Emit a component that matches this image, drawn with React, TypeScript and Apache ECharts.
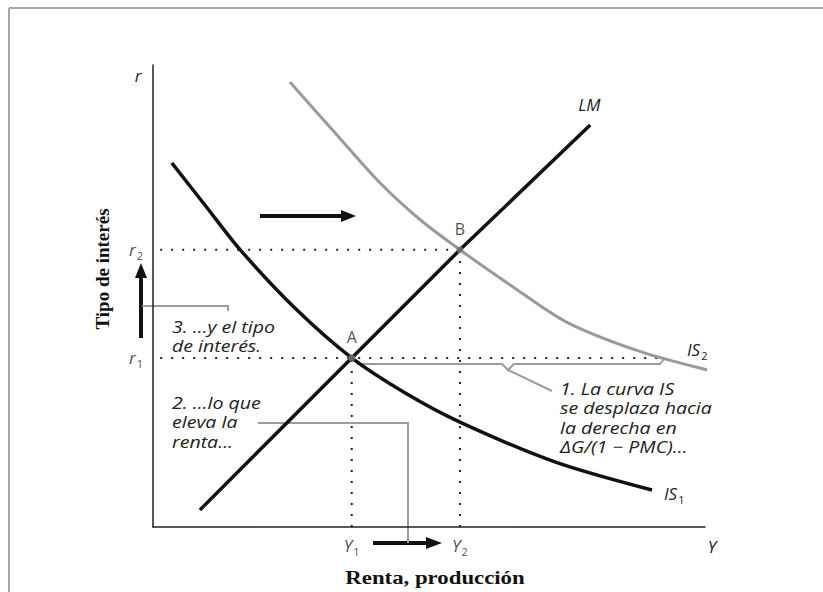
import React, { useEffect, useRef } from "react";
import * as echarts from "echarts";

// ---- data (abstract units: income Y on x, interest rate r on y) ----
const X_RANGE = [0, 100];
const Y_RANGE = [0, 100];
const IS1_X = [3.4, 9.4, 15.8, 25.7, 36, 45.7, 55.6, 72.8, 90.4];
const IS1_Y = [78.8, 69.7, 60, 47.4, 36.6, 29, 22.7, 14.1, 8];
const IS2_X = [24.8, 33, 41.1, 48.4, 55.6, 64.7, 75, 88.2, 100.4];
const IS2_Y = [96.3, 85.3, 74.5, 66.5, 60, 52.4, 44.3, 38, 34];
const LM_X = [8.5, 36, 55.6, 79.2];
const LM_Y = [3.7, 36.6, 60, 87];
const EQ_NAMES = ["A", "B"];
const EQ_INCOME = [36, 55.6]; // Y1, Y2
const EQ_RATE = [36.6, 60]; // r1, r2
const INCOME_TICKS = ["1", "2"];
const RATE_TICKS = ["1", "2"];
const GUIDE_START = 1.3;
const R1_GUIDE_END = 92.8;
const CURVE_NAMES = ["IS", "IS", "LM"];

const SANS = "'Open Sans', 'DejaVu Sans', sans-serif";
const SERIF = "'Liberation Serif', 'DejaVu Serif', serif";

const zip = (xs: number[], ys: number[]) => xs.map((x, i) => [x, ys[i]]);

const subRich = {
  m: { fontStyle: "italic", fontSize: 17, fontFamily: SANS, color: "#222", lineHeight: 18, verticalAlign: "top" },
  s: { fontSize: 11, fontFamily: SANS, color: "#222", lineHeight: 11, padding: [9, 0, 0, 1], verticalAlign: "top" },
};

export default function App() {
  const ref = useRef<HTMLDivElement>(null);
  useEffect(() => {
    if (!ref.current) return;
    const chart = echarts.init(ref.current, null, { renderer: "svg" });
    const dotted = { color: "#222", width: 2, type: [2, 9] as any };
    const guide = (pts: number[][]) => ({
      type: "line",
      data: pts,
      symbol: "none",
      lineStyle: dotted,
      z: 1,
      silent: true,
    });
    const gray = "#9c9c9c";
    const annText = (x: number, y: number, text: string, lh: number) => ({
      type: "text",
      x,
      y,
      scaleX: 1.15,
      style: {
        text,
        font: `italic 17px ${SANS}`,
        fill: "#222",
        lineHeight: lh,
        textVerticalAlign: "top",
      },
    });
    const option: any = {
      animation: false,
      grid: { left: 153, top: 65, width: 552, height: 462 },
      xAxis: {
        type: "value",
        min: X_RANGE[0],
        max: X_RANGE[1],
        axisLine: { show: true, onZero: false, lineStyle: { color: "#222", width: 1.5 } },
        axisTick: { show: false },
        axisLabel: { show: false },
        splitLine: { show: false },
      },
      yAxis: {
        type: "value",
        min: Y_RANGE[0],
        max: Y_RANGE[1],
        axisLine: { show: true, onZero: false, lineStyle: { color: "#222", width: 1.5 } },
        axisTick: { show: false },
        axisLabel: { show: false },
        splitLine: { show: false },
      },
      series: [
        guide([[GUIDE_START, EQ_RATE[1]], [EQ_INCOME[1], EQ_RATE[1]]]),
        guide([[GUIDE_START, EQ_RATE[0]], [R1_GUIDE_END, EQ_RATE[0]]]),
        guide([[EQ_INCOME[0], 0], [EQ_INCOME[0], EQ_RATE[0]]]),
        guide([[EQ_INCOME[1], 0], [EQ_INCOME[1], EQ_RATE[1]]]),
        {
          type: "line",
          data: zip(IS2_X, IS2_Y),
          smooth: 0.3,
          symbol: "none",
          clip: false,
          z: 2,
          lineStyle: { color: "#9a9a9a", width: 3 },
          endLabel: {
            show: true,
            formatter: `{m|${CURVE_NAMES[1]}}{s|2}`,
            rich: subRich,
            offset: [-28, -20],
          },
        },
        {
          type: "line",
          data: zip(IS1_X, IS1_Y),
          smooth: 0.3,
          symbol: "none",
          z: 3,
          lineStyle: { color: "#111", width: 3.5 },
          endLabel: {
            show: true,
            formatter: `{m|${CURVE_NAMES[0]}}{s|1}`,
            rich: subRich,
            offset: [4, 4],
          },
        },
        {
          type: "line",
          data: zip(LM_X, LM_Y),
          symbol: "none",
          z: 3,
          lineStyle: { color: "#111", width: 3.5 },
          endLabel: {
            show: true,
            formatter: `{m|${CURVE_NAMES[2]}}`,
            rich: subRich,
            offset: [-20, -20],
          },
        },
        {
          type: "scatter",
          z: 4,
          symbolSize: 7,
          itemStyle: { color: "#7a7a7a" },
          data: EQ_NAMES.map((n, i) => ({ name: n, value: [EQ_INCOME[i], EQ_RATE[i]] })),
          label: {
            show: true,
            position: "top",
            distance: 9,
            formatter: (p: any) => p.name,
            fontSize: 16,
            fontFamily: SANS,
            color: "#222",
          },
        },
        {
          type: "scatter",
          symbolSize: 0,
          z: 4,
          data: EQ_INCOME.map((v, i) => ({ value: [v, 0], name: INCOME_TICKS[i] })),
          label: {
            show: true,
            position: "bottom",
            distance: 10,
            formatter: (p: any) => `{m|Y}{s|${p.name}}`,
            rich: subRich,
          },
        },
        {
          type: "scatter",
          symbolSize: 0,
          z: 4,
          data: EQ_RATE.map((v, i) => ({ value: [0, v], name: RATE_TICKS[i] })),
          label: {
            show: true,
            position: "left",
            distance: 10,
            formatter: (p: any) => `{m|r}{s|${p.name}}`,
            rich: subRich,
          },
        },
      ],
      graphic: [
        // frame
        { type: "line", shape: { x1: 9, y1: 8, x2: 823, y2: 8 }, style: { stroke: "#a8a8a8", lineWidth: 2 } },
        { type: "line", shape: { x1: 9, y1: 8, x2: 9, y2: 592 }, style: { stroke: "#a8a8a8", lineWidth: 2 } },
        // axis letters
        { type: "text", x: 138, y: 75, style: { text: "r", font: `italic 17px ${SANS}`, fill: "#222", textAlign: "center", textVerticalAlign: "middle" } },
        { type: "text", x: 712, y: 546, style: { text: "Y", font: `italic 17px ${SANS}`, fill: "#222", textAlign: "center", textVerticalAlign: "middle" } },
        // axis titles
        {
          type: "text",
          x: 102,
          y: 269,
          rotation: Math.PI / 2,
          style: { text: "Tipo de interés", font: `bold 19px ${SERIF}`, fill: "#111", textAlign: "center", textVerticalAlign: "middle" },
        },
        {
          type: "text",
          x: 435,
          y: 578,
          scaleX: 1.2,
          style: { text: "Renta, producción", font: `bold 19px ${SERIF}`, fill: "#111", textAlign: "center", textVerticalAlign: "middle" },
        },
        // arrows
        { type: "line", shape: { x1: 260, y1: 216, x2: 343, y2: 216 }, style: { stroke: "#111", lineWidth: 4 } },
        { type: "polygon", shape: { points: [[341, 210], [356, 216], [341, 222]] }, style: { fill: "#111" } },
        { type: "line", shape: { x1: 141, y1: 338, x2: 141, y2: 276 }, style: { stroke: "#111", lineWidth: 4 } },
        { type: "polygon", shape: { points: [[135, 278], [141, 263], [147, 278]] }, style: { fill: "#111" } },
        { type: "line", shape: { x1: 373, y1: 543, x2: 428, y2: 543 }, style: { stroke: "#111", lineWidth: 4 } },
        { type: "polygon", shape: { points: [[426, 537], [442, 543], [426, 549]] }, style: { fill: "#111" } },
        // leaders
        { type: "polyline", shape: { points: [[142, 306], [228, 306], [228, 311]] }, style: { stroke: gray, lineWidth: 2, fill: null } },
        { type: "polyline", shape: { points: [[258, 423], [408, 423], [408, 543]] }, style: { stroke: gray, lineWidth: 2, fill: null } },
        {
          type: "polyline",
          shape: { points: [[357, 364], [502, 364], [508, 370], [514, 364], [660, 364], [664, 359]] },
          style: { stroke: gray, lineWidth: 2, fill: null },
        },
        { type: "line", shape: { x1: 508, y1: 370, x2: 552, y2: 391 }, style: { stroke: gray, lineWidth: 2 } },
        // annotations
        annText(172, 317, "3. …y el tipo\nde interés.", 19),
        annText(172, 392, "2. …lo que\neleva la\nrenta…", 19.5),
        annText(560, 378, "1. La curva IS\nse desplaza hacia\nla derecha en\nΔG/(1 − PMC)…", 19.5),
      ],
    };
    chart.setOption(option);
    return () => chart.dispose();
  }, []);
  return (
    <div
      ref={ref}
      style={{ position: "fixed", left: 0, top: 0, width: 823, height: 592, background: "#fff" }}
    />
  );
}
